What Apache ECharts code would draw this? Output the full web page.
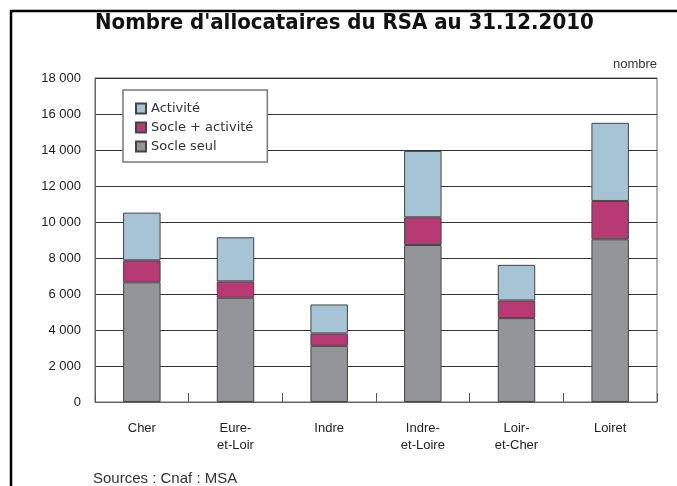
<!DOCTYPE html>
<html>
<head>
<meta charset="utf-8">
<script src="https://cdn.jsdelivr.net/npm/echarts@6/dist/echarts.min.js"></script>
<style>
  html, body { margin:0; padding:0; background:#fff; }
  #chart { width:677px; height:486px; }
</style>
</head>
<body>
<div id="chart"></div>
<script>
// départements (libellés sur deux lignes comme dans l'original)
var arrDepts = ['Cher', 'Eure-\net-Loir', 'Indre', 'Indre-\net-Loire', 'Loir-\net-Cher', 'Loiret'];

var arrSocleSeul = [6650, 5790, 3120, 8720, 4660, 9040];      // Socle seul
var arrSocleAct  = [1220, 910, 690, 1540, 980, 2130];         // Socle + activité
var arrActivite  = [2650, 2450, 1610, 3690, 1980, 4340];      // Activité

var yMin = 0, yMax = 18000, yStep = 2000;

function fmtNombre(v){
    // séparateur de milliers : espace
    return String(v).replace(/\B(?=(\d{3})+(?!\d))/g, ' ');
}

var myChart = echarts.init(document.getElementById('chart'));

var barBorder = { borderColor:'#444', borderWidth:1 };

var option = {
    animation:false,
    title:{
        text:"Nombre d'allocataires du RSA au 31.12.2010",
        left:90,
        top:7,
        textStyle:{
            fontFamily:'DejaVu Sans Condensed',
            fontSize:22,
            fontWeight:'bold',
            color:'#111'
        }
    },
    graphic:[
        {
            type:'polyline',
            shape:{ points:[[11,486],[11,11],[677,11]] },
            style:{ stroke:'#000', lineWidth:2.5, fill:null }
        },
        {
            type:'text',
            right:20,
            top:58,
            style:{ text:'nombre', fontFamily:'Liberation Sans', fontSize:13, fill:'#333' }
        },
        {
            type:'text',
            left:93,
            top:471,
            style:{ text:'Sources : Cnaf : MSA', fontFamily:'Liberation Sans', fontSize:15, fill:'#333' }
        }
    ],
    grid:{
        left:95,
        right:20,
        top:78,
        bottom:84,
        show:true,
        borderColor:'#666',
        borderWidth:1
    },
    legend:{
        orient:'vertical',
        left:123,
        top:90,
        data:['Activité', 'Socle + activité', 'Socle seul'],
        itemWidth:10,
        itemHeight:10,
        itemGap:6,
        padding:[12, 14, 9, 12],
        backgroundColor:'#fff',
        borderColor:'#777',
        borderWidth:1.5,
        icon:'rect',
        textStyle:{ fontFamily:'DejaVu Sans', fontSize:13, color:'#333' }
    },
    xAxis:{
        type:'category',
        data:arrDepts,
        boundaryGap:true,
        axisLine:{ lineStyle:{ color:'#666', width:1 } },
        axisTick:{ show:true, inside:true, length:9, lineStyle:{ color:'#555' } },
        axisLabel:{
            margin:18,
            fontFamily:'Liberation Sans',
            fontSize:13,
            lineHeight:17,
            color:'#222'
        }
    },
    yAxis:{
        type:'value',
        min:yMin,
        max:yMax,
        interval:yStep,
        axisLine:{ show:true, lineStyle:{ color:'#666' } },
        axisTick:{ show:false },
        axisLabel:{
            margin:14,
            fontFamily:'Liberation Sans',
            fontSize:13,
            color:'#222',
            formatter:fmtNombre
        },
        splitLine:{ show:true, lineStyle:{ color:'#333', width:1 } }
    },
    series:[
        {
            name:'Socle seul',
            type:'bar',
            stack:'rsa',
            barWidth:'40%',
            itemStyle:Object.assign({ color:'#949598' }, barBorder),
            data:arrSocleSeul
        },
        {
            name:'Socle + activité',
            type:'bar',
            stack:'rsa',
            itemStyle:Object.assign({ color:'#b83a74' }, barBorder),
            data:arrSocleAct
        },
        {
            name:'Activité',
            type:'bar',
            stack:'rsa',
            itemStyle:Object.assign({ color:'#a6c4d6' }, barBorder),
            data:arrActivite
        }
    ]
};

myChart.setOption(option);
</script>
</body>
</html>
